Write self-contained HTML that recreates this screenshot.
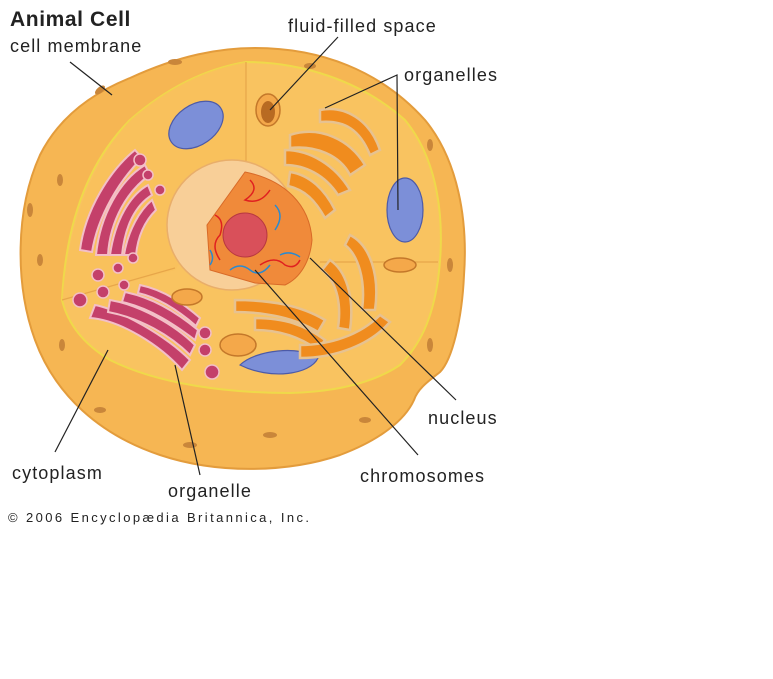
<!DOCTYPE html>
<html><head><style>
html,body{margin:0;padding:0;background:#fff;width:773px;height:679px;overflow:hidden}
svg{position:absolute;left:0;top:0}
text{font-family:"Liberation Sans",sans-serif;fill:#222}
</style></head><body>
<svg width="773" height="679" viewBox="0 0 773 679">
<path d="M130,78 C180,55 220,48 255,48 C320,48 380,70 425,120 C458,160 468,220 464,275 C462,320 452,360 440,372 C430,380 418,388 414,400 C405,420 380,440 340,455 C290,472 220,475 160,455 C100,435 55,395 35,340 C15,285 15,210 40,155 C60,115 95,92 130,78 Z" fill="#f6b653" stroke="#e39c3c" stroke-width="2"/>
<path d="M62,300 C65,240 80,170 130,120 C170,85 210,68 246,62 C300,62 360,80 405,120 C438,160 446,220 438,280 C432,320 420,345 400,365 C370,385 330,392 290,393 C230,393 160,385 110,360 C85,345 68,325 62,300 Z" fill="#f9c360" stroke="#efd94a" stroke-width="2"/>
<path d="M62,300 C68,240 82,175 130,120 C170,85 210,68 246,62 L246,172 L175,270 Z" fill="#f8c05a" opacity="0.6"/>
<g stroke="#e7a64a" stroke-width="1.2" fill="none">
<line x1="246" y1="62" x2="246" y2="172"/><line x1="62" y1="300" x2="175" y2="268"/><line x1="320" y1="262" x2="438" y2="262"/>
</g>
<g fill="#c9863a">
<ellipse cx="100" cy="90" rx="6" ry="3" transform="rotate(-40 100 90)"/><ellipse cx="175" cy="62" rx="7" ry="3"/><ellipse cx="310" cy="66" rx="6" ry="3"/><ellipse cx="430" cy="145" rx="3" ry="6"/><ellipse cx="450" cy="265" rx="3" ry="7"/><ellipse cx="430" cy="345" rx="3" ry="7"/><ellipse cx="30" cy="210" rx="3" ry="7"/><ellipse cx="40" cy="260" rx="3" ry="6"/><ellipse cx="60" cy="180" rx="3" ry="6"/><ellipse cx="100" cy="410" rx="6" ry="3"/><ellipse cx="190" cy="445" rx="7" ry="3"/><ellipse cx="270" cy="435" rx="7" ry="3"/><ellipse cx="365" cy="420" rx="6" ry="3"/><ellipse cx="62" cy="345" rx="3" ry="6"/>
</g>
<circle cx="232" cy="225" r="65" fill="#f8cf98" stroke="#e9ae6a" stroke-width="1.5"/>
<path d="M207,225 L245,172 C285,180 310,205 312,240 C310,262 300,278 285,285 L255,283 L210,270 Z" fill="#f08a3a" stroke="#d86a28"/>
<circle cx="245" cy="235" r="22" fill="#d9505a" stroke="#b83840"/>
<path d="M250,180 q10,10 -5,20 q15,5 25,-10 M215,215 q10,5 5,20 q-10,10 0,25 M260,265 q15,-10 25,0 q10,5 15,-5" stroke="#e02020" stroke-width="1.5" fill="none"/>
<path d="M230,270 q10,-8 20,0 q10,8 20,-5 M275,205 q10,10 0,25 M210,250 q5,8 0,15 M280,255 q10,-5 20,2" stroke="#2a8ad0" stroke-width="1.5" fill="none"/>
<g fill="#7c8fd8" stroke="#4c5aa8" stroke-width="1.2">
<ellipse cx="196" cy="125" rx="30" ry="20" transform="rotate(-35 196 125)"/>
<ellipse cx="405" cy="210" rx="18" ry="32"/>
<path d="M240,365 C255,350 300,345 318,358 C310,375 270,380 240,365 Z"/>
</g>
<g fill="#c4406a" stroke="#f3bfc8" stroke-width="2">
<path d="M80,250 C85,210 110,170 135,150 L142,158 C120,180 98,215 92,252 Z"/>
<path d="M96,255 C100,215 120,180 145,165 L150,175 C128,190 110,220 108,255 Z"/>
<path d="M110,255 C115,220 130,195 148,185 L152,195 C136,205 125,225 122,255 Z"/>
<path d="M124,255 C128,230 140,210 152,200 L156,210 C146,220 138,235 136,255 Z"/>
<path d="M95,305 C120,310 165,335 190,360 L182,370 C160,345 120,320 90,318 Z"/>
<path d="M110,300 C140,305 175,325 195,345 L190,355 C170,335 140,318 108,312 Z"/>
<path d="M125,292 C155,298 180,315 198,330 L195,340 C175,325 150,308 122,302 Z"/>
<path d="M140,285 C165,290 185,305 200,318 L196,326 C180,312 160,298 138,293 Z"/>
</g>
<g fill="#c4406a" stroke="#f3bfc8" stroke-width="1.5">
<circle cx="140" cy="160" r="6"/><circle cx="148" cy="175" r="5"/><circle cx="160" cy="190" r="5"/><circle cx="98" cy="275" r="6"/><circle cx="118" cy="268" r="5"/><circle cx="133" cy="258" r="5"/><circle cx="80" cy="300" r="7"/><circle cx="103" cy="292" r="6"/><circle cx="124" cy="285" r="5"/><circle cx="205" cy="333" r="6"/><circle cx="205" cy="350" r="6"/><circle cx="212" cy="372" r="7"/>
</g>
<g fill="#f08c1e" stroke="#e7c290" stroke-width="2.5">
<path d="M290,135 C320,125 350,140 365,165 L350,175 C340,155 315,145 290,148 Z"/>
<path d="M285,150 C310,150 335,165 350,190 L338,195 C325,175 305,165 285,165 Z"/>
<path d="M290,172 C310,175 325,190 335,210 L325,218 C315,200 305,190 288,186 Z"/>
<path d="M320,110 C345,105 370,120 380,150 L370,155 C360,130 345,120 320,122 Z"/>
<path d="M350,235 C370,245 380,275 375,310 L362,310 C366,280 358,255 345,245 Z"/>
<path d="M330,260 C345,270 355,295 350,330 L338,328 C342,300 335,280 322,270 Z"/>
<path d="M235,300 C270,300 300,305 325,320 L318,332 C295,318 265,312 235,312 Z"/>
<path d="M255,318 C285,318 305,325 325,340 L318,350 C300,337 280,330 255,330 Z"/>
<path d="M300,345 C330,345 360,335 380,315 L390,322 C370,345 335,358 300,358 Z"/>
</g>
<g fill="#f4a84a" stroke="#c4782a" stroke-width="1.5">
<ellipse cx="268" cy="110" rx="12" ry="16"/><ellipse cx="187" cy="297" rx="15" ry="8"/><ellipse cx="238" cy="345" rx="18" ry="11"/><ellipse cx="400" cy="265" rx="16" ry="7"/>
</g>
<ellipse cx="268" cy="112" rx="7" ry="11" fill="#b86a22"/>
<g stroke="#222" stroke-width="1.2" fill="none">
<line x1="70" y1="62" x2="112" y2="95"/>
<line x1="338" y1="37" x2="270" y2="110"/>
<polyline points="325,108 397,75 398,210"/>
<line x1="310" y1="258" x2="456" y2="400"/>
<line x1="255" y1="270" x2="418" y2="455"/>
<line x1="108" y1="350" x2="55" y2="452"/>
<line x1="175" y1="365" x2="200" y2="475"/>
</g>
<text x="10" y="26" font-size="21" font-weight="bold" letter-spacing="0.6">Animal Cell</text>
<g font-size="18" letter-spacing="1.1">
<text x="10" y="52">cell membrane</text>
<text x="288" y="32">fluid-filled space</text>
<text x="404" y="81">organelles</text>
<text x="428" y="424">nucleus</text>
<text x="360" y="482">chromosomes</text>
<text x="12" y="479">cytoplasm</text>
<text x="168" y="497">organelle</text>
</g>
<text x="8" y="522" font-size="13" letter-spacing="2.4">© 2006 Encyclopædia Britannica, Inc.</text>
</svg>
</body></html>
